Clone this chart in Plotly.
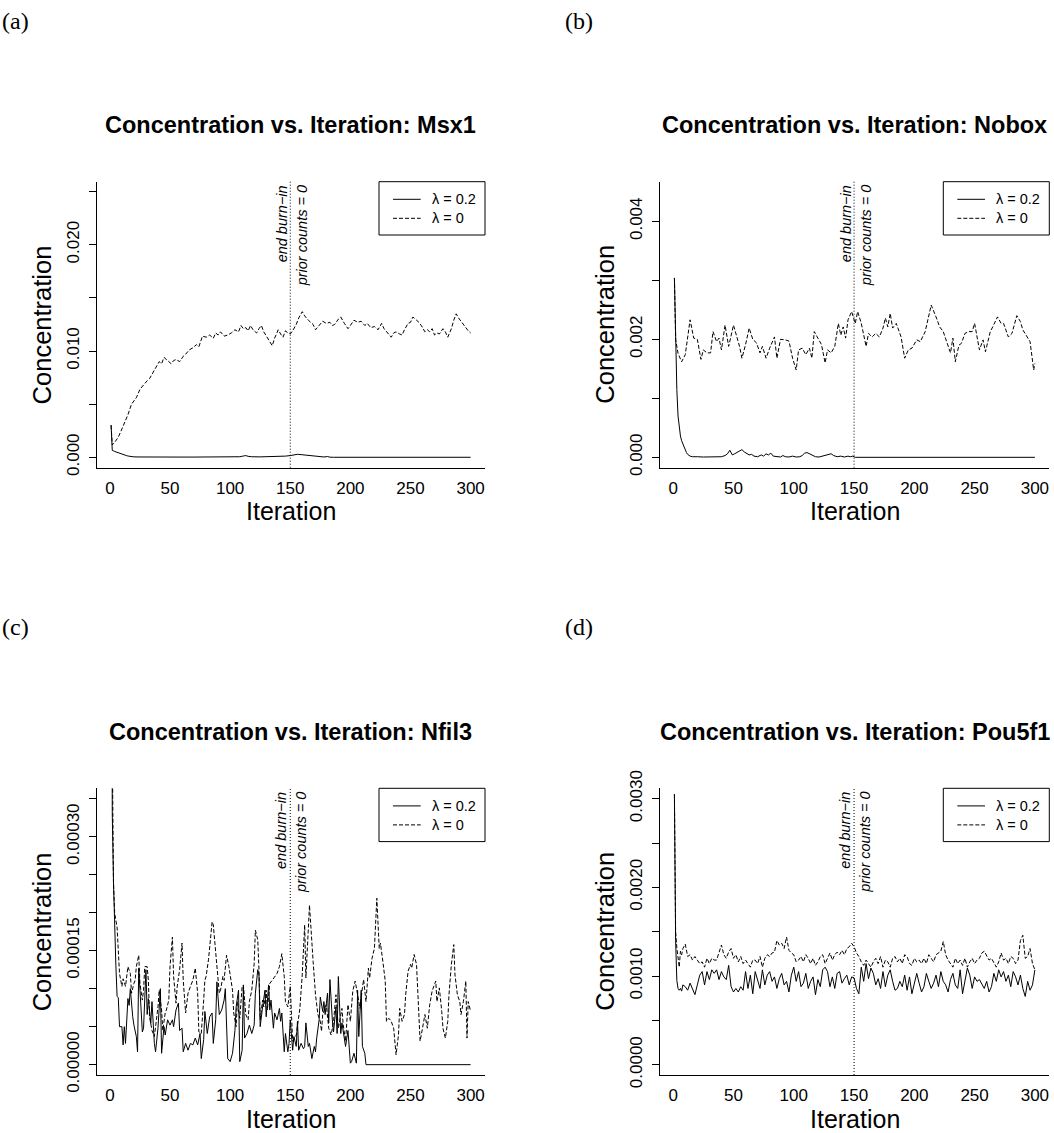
import plotly.graph_objects as go

W, H = 1054, 1133
FONT = "Liberation Sans, Arial, sans-serif"

# ---------------------------------------------------------------------------
# Concentration traces, as (iteration, value) pairs.
# Values are in the unit given by each panel's scale entry below.
# ---------------------------------------------------------------------------

# Msx1 (units of 1e-4)
MSX1_L02 = [(1, 30.4), (2, 6.5), (4, 5.5), (6, 4.6), (8, 3.8), (10, 3.0), (12, 2.2), (14, 1.5),
            (16, 1.0), (18, 0.6), (20, 0.4), (25, 0.3), (30, 0.2), (40, 0.3), (50, 0.4), (60, 0.2),
            (70, 0.2), (80, 0.3), (90, 0.4), (100, 0.3), (108, 0.5), (111, 1.2), (113, 1.6), (115, 0.9),
            (118, 0.5), (125, 0.4), (132, 0.5), (138, 0.9), (142, 1.0), (146, 1.1), (150, 1.6), (153, 2.3),
            (156, 2.8), (159, 2.5), (162, 2.1), (165, 1.5), (168, 1.0), (171, 0.6), (175, 0.4), (178, 0.3),
            (181, 0.7), (183, 0.1), (186, 0.0), (300, 0.0)]
MSX1_L0 = [(1, 30), (2, 11.6), (4, 14), (7, 19), (9, 24), (11, 29), (13, 34), (15, 40), (18, 50), (20, 53),
           (22, 56), (25, 64), (27, 67), (29, 69), (31, 72), (33, 74), (35, 78), (37, 82), (39, 86), (41, 90),
           (43, 88), (45, 94), (48, 91), (51, 88), (53, 91), (55, 92), (58, 90), (61, 95), (63, 97), (66, 101),
           (69, 103), (72, 106), (74, 104), (77, 114), (80, 113), (83, 115), (86, 112), (88, 117), (90, 115),
           (92, 118), (95, 114), (98, 115), (101, 117), (104, 120), (107, 118), (109, 124), (111, 121),
           (113, 122), (115, 119), (117, 124), (119, 120), (122, 117), (124, 121), (126, 124), (128, 118),
           (130, 114), (132, 110), (135, 105), (137, 112), (140, 120), (142, 116), (144, 113), (146, 119),
           (148, 117), (150, 116), (152, 119), (155, 125), (157, 131), (160, 137), (162, 133), (165, 129),
           (167, 127), (169, 125), (171, 120), (174, 124), (177, 128), (180, 126), (183, 127), (185, 124),
           (187, 125), (190, 130), (192, 132), (195, 126), (198, 121), (200, 124), (203, 129), (206, 127),
           (209, 128), (212, 124), (214, 126), (217, 122), (220, 123), (223, 120), (226, 126), (228, 121),
           (230, 118), (234, 113), (236, 117), (238, 118), (241, 116), (243, 115), (245, 120), (248, 126),
           (250, 127), (252, 132), (255, 129), (257, 127), (259, 124), (262, 118), (264, 120), (266, 118),
           (268, 121), (270, 115), (272, 117), (274, 116), (277, 121), (279, 118), (281, 113), (284, 121),
           (286, 129), (288, 135), (290, 131), (292, 128), (294, 125), (296, 121), (298, 119), (300, 117)]

# Nobox (units of 1e-5)
NOBOX_L02 = [(1, 304), (2, 204), (3, 115), (4, 70), (5, 48), (6, 36), (7, 28), (8, 22), (9, 17), (10, 12),
             (11, 8), (12, 5), (13, 3), (14, 2), (16, 1), (18, 0.5), (20, 1), (25, 0.5), (30, 1), (35, 0.5),
             (40, 1), (43, 3), (45, 6), (47, 12), (49, 4), (51, 6), (53, 8), (55, 11), (57, 13), (59, 9),
             (61, 6), (63, 4), (65, 5), (67, 2), (70, 1), (73, 4), (75, 2), (77, 6), (79, 4), (81, 7), (83, 2),
             (86, 1), (89, 0.5), (91, 3), (93, 1), (96, 0.5), (99, 2), (102, 0.5), (105, 1), (107, 3), (109, 7),
             (111, 8), (113, 6), (115, 3), (118, 1), (121, 0.5), (124, 2), (127, 4), (129, 5), (131, 6),
             (133, 3), (136, 1), (139, 2), (142, 0.5), (145, 2), (147, 1), (149, 2), (150, 1), (151, 0),
             (300, 0)]
NOBOX_L0 = [(1, 304), (2, 200), (4, 176), (7, 162), (10, 174), (12, 200), (14, 233), (17, 202), (20, 200),
            (23, 166), (25, 182), (28, 177), (31, 177), (33, 213), (36, 196), (38, 202), (40, 182), (43, 224),
            (46, 188), (50, 224), (53, 204), (55, 188), (57, 168), (60, 191), (63, 219), (66, 200), (69, 194),
            (72, 177), (74, 188), (77, 168), (80, 185), (84, 204), (86, 168), (89, 200), (93, 199), (96, 197),
            (99, 168), (102, 148), (104, 182), (107, 185), (110, 174), (113, 185), (115, 168), (117, 213),
            (120, 202), (123, 191), (126, 160), (128, 182), (131, 177), (134, 188), (137, 227), (139, 207),
            (141, 221), (143, 202), (145, 233), (148, 247), (151, 227), (153, 247), (156, 227), (160, 188),
            (162, 210), (165, 204), (168, 210), (171, 204), (174, 219), (176, 236), (178, 221), (180, 244),
            (182, 219), (185, 227), (189, 204), (192, 168), (195, 182), (198, 185), (202, 199), (205, 196),
            (209, 213), (211, 230), (214, 258), (218, 238), (221, 221), (224, 213), (227, 193), (230, 177),
            (232, 202), (234, 162), (237, 190), (239, 193), (242, 210), (245, 213), (248, 213), (250, 227),
            (254, 182), (257, 199), (259, 179), (263, 213), (265, 221), (269, 238), (272, 227), (274, 227),
            (278, 204), (281, 210), (285, 240), (288, 230), (290, 216), (293, 207), (296, 196), (299, 148),
            (300, 159)]

# Nfil3 (units of 1e-6)
NFIL3_L02 = [(1, 900), (2, 330), (3, 240), (4, 170), (5, 130), (6, 90), (7, 88), (8, 50), (10, 50), (11, 26),
             (12, 50), (13, 28), (15, 87), (16, 78), (17, 100), (19, 63), (20, 52), (22, 37), (23, 17), (24, 127),
             (26, 76), (27, 43), (28, 48), (30, 125), (31, 66), (32, 87), (34, 54), (35, 83), (37, 28), (38, 17),
             (40, 48), (42, 100), (43, 15), (45, 50), (46, 39), (48, 59), (50, 52), (52, 59), (53, 50), (55, 72),
             (57, 81), (58, 45), (60, 48), (61, 17), (63, 28), (65, 19), (67, 28), (69, 26), (71, 35), (73, 26),
             (75, 41), (76, 8), (78, 33), (79, 70), (81, 41), (83, 63), (85, 68), (86, 28), (88, 59), (89, 109),
             (91, 66), (93, 72), (95, 85), (96, 100), (98, 8), (100, 4), (102, 15), (104, 45), (105, 76),
             (107, 98), (108, 4), (110, 19), (111, 103), (112, 35), (114, 41), (116, 52), (118, 41), (120, 52),
             (121, 94), (123, 125), (124, 118), (125, 50), (127, 76), (129, 98), (130, 63), (132, 105), (133, 72),
             (134, 85), (136, 48), (137, 68), (139, 59), (141, 74), (142, 57), (143, 68), (145, 17), (146, 41),
             (148, 17), (149, 28), (150, 59), (152, 19), (153, 37), (155, 24), (156, 57), (157, 19), (159, 28),
             (161, 21), (162, 24), (163, 55), (165, 24), (166, 28), (168, 8), (170, 24), (171, 17), (172, 35),
             (174, 59), (175, 89), (177, 70), (178, 83), (179, 66), (181, 94), (182, 55), (183, 112), (185, 59),
             (186, 43), (188, 76), (189, 41), (190, 116), (192, 41), (193, 55), (195, 37), (196, 24), (198, 45),
             (200, 2), (201, 4), (203, 15), (205, 2), (206, 98), (207, 37), (209, 98), (210, 24), (212, 15),
             (213, 0), (300, 0)]
NFIL3_L0 = [(1, 900), (2, 420), (3, 239), (4, 199), (6, 181), (7, 146), (8, 120), (10, 103), (11, 113), (13, 103),
            (14, 116), (15, 129), (17, 120), (18, 94), (20, 107), (21, 111), (22, 129), (24, 144), (25, 107),
            (27, 85), (28, 98), (29, 129), (31, 129), (32, 111), (33, 63), (35, 45), (37, 37), (38, 50), (40, 76),
            (41, 98), (43, 72), (44, 45), (46, 68), (47, 72), (49, 85), (50, 129), (52, 168), (53, 116), (55, 81),
            (56, 103), (58, 125), (60, 160), (61, 111), (63, 68), (65, 94), (67, 103), (69, 111), (71, 127),
            (73, 94), (74, 43), (76, 41), (78, 85), (79, 111), (80, 116), (82, 138), (84, 171), (85, 188),
            (86, 184), (88, 151), (89, 129), (91, 94), (92, 98), (94, 116), (95, 111), (97, 144), (99, 129),
            (100, 116), (102, 98), (103, 68), (105, 50), (106, 83), (108, 61), (110, 103), (111, 105), (113, 66),
            (115, 59), (116, 83), (118, 98), (120, 133), (121, 177), (123, 164), (124, 125), (125, 59), (127, 85),
            (128, 76), (130, 98), (131, 72), (133, 107), (135, 111), (137, 116), (139, 120), (141, 129),
            (143, 146), (145, 116), (146, 83), (148, 76), (150, 103), (152, 31), (155, 39), (158, 74), (160, 119),
            (162, 184), (163, 114), (166, 210), (168, 149), (169, 136), (171, 92), (173, 66), (175, 57), (176, 44),
            (177, 66), (180, 79), (182, 48), (184, 39), (186, 57), (188, 92), (190, 48), (193, 74), (194, 53),
            (196, 31), (198, 79), (200, 57), (202, 97), (204, 110), (206, 92), (208, 74), (210, 101), (211, 112),
            (213, 83), (215, 127), (216, 114), (218, 140), (220, 153), (222, 219), (224, 153), (225, 160),
            (227, 136), (229, 110), (230, 57), (232, 61), (234, 57), (236, 48), (238, 13), (240, 39), (241, 74),
            (243, 57), (245, 66), (246, 92), (248, 123), (250, 132), (251, 127), (253, 145), (255, 132), (256, 92),
            (258, 31), (260, 48), (262, 66), (264, 48), (266, 79), (268, 97), (269, 101), (271, 110), (272, 83),
            (274, 101), (276, 70), (277, 48), (279, 35), (281, 57), (282, 92), (284, 132), (286, 158), (287, 118),
            (289, 92), (291, 83), (292, 66), (294, 83), (296, 110), (297, 35), (298, 83), (300, 70)]

# Pou5f1 (units of 1e-5), sampled on a fixed iteration grid
POU5F1_ITER = list(range(1, 9)) + list(range(10, 301, 2))
POU5F1_L02 = [305, 140, 95, 86, 84, 86, 83, 90,
              88, 84, 92, 86, 79, 90, 101, 105, 90, 105, 96, 107, 103, 107, 96, 105, 99, 96, 112, 88,
              82, 86, 82, 88, 84, 105, 86, 101, 80, 105, 96, 86, 107, 90, 101, 105, 94, 99, 86, 97,
              103, 90, 94, 82, 101, 110, 94, 105, 88, 92, 103, 86, 94, 99, 79, 96, 88, 107, 110, 105,
              88, 99, 86, 103, 105, 92, 97, 101, 90, 99, 98, 86, 80, 110, 94, 114, 97, 109, 103, 90,
              97, 86, 105, 88, 101, 107, 94, 84, 86, 94, 88, 101, 84, 99, 80, 90, 103, 92, 82, 88,
              103, 94, 86, 92, 101, 88, 105, 94, 90, 82, 96, 103, 90, 86, 107, 80, 97, 109, 101, 86,
              99, 94, 96, 90, 86, 94, 82, 88, 103, 94, 107, 99, 105, 94, 101, 88, 105, 99, 90, 101,
              86, 77, 94, 84, 90, 107]
POU5F1_L0 = [305, 150, 132, 120, 110, 128, 124, 131,
             136, 122, 124, 118, 122, 118, 114, 116, 110, 120, 114, 120, 118, 118, 127, 135, 124, 120, 127, 131,
             120, 124, 116, 122, 114, 118, 114, 110, 118, 118, 114, 122, 110, 120, 124, 122, 126, 127, 140, 135,
             137, 131, 144, 129, 126, 124, 116, 118, 122, 116, 124, 120, 114, 120, 112, 116, 122, 124, 114, 120,
             126, 118, 124, 127, 124, 129, 124, 131, 133, 137, 133, 126, 122, 116, 112, 118, 114, 110, 116, 120,
             114, 122, 110, 118, 116, 110, 120, 122, 116, 120, 114, 124, 122, 114, 112, 120, 116, 118, 114, 120,
             114, 124, 120, 116, 124, 126, 128, 139, 124, 118, 114, 110, 120, 114, 118, 112, 120, 110, 116, 120,
             114, 118, 120, 126, 128, 122, 118, 120, 114, 110, 116, 126, 118, 120, 114, 122, 120, 114, 118, 140,
             146, 120, 122, 131, 114, 107]

X_TICKS = [0, 50, 100, 150, 200, 250, 300]
BURN_IN_END = 150
LEGEND_LABELS = ["\u03bb = 0.2", "\u03bb = 0"]


def unzip(pairs):
    return [p[0] for p in pairs], [p[1] for p in pairs]


PANELS = [
    dict(tag="(a)", gene="Msx1", scale=1e-4,
         solid=unzip(MSX1_L02), dashed=unzip(MSX1_L0),
         box=(96.7, 181.7, 485.0, 467.7), yrange=(-0.00098, 0.02593),
         yticks=[0, 0.005, 0.010, 0.015, 0.020, 0.025],
         ytext=["0.000", "", "0.010", "", "0.020", ""]),
    dict(tag="(b)", gene="Nobox", scale=1e-5,
         solid=unzip(NOBOX_L02), dashed=unzip(NOBOX_L0),
         box=(660.0, 181.7, 1049.3, 467.7), yrange=(-0.000176, 0.004671),
         yticks=[0, 0.001, 0.002, 0.003, 0.004],
         ytext=["0.000", "", "0.002", "", "0.004"]),
    dict(tag="(c)", gene="Nfil3", scale=1e-6,
         solid=unzip(NFIL3_L02), dashed=unzip(NFIL3_L0),
         box=(96.7, 788.3, 485.0, 1075.0), yrange=(-0.0000136, 0.0003637),
         yticks=[0, 0.00005, 0.0001, 0.00015, 0.0002, 0.00025, 0.0003, 0.00035],
         ytext=["0.00000", "", "", "0.00015", "", "", "0.00030", ""]),
    dict(tag="(d)", gene="Pou5f1", scale=1e-5,
         solid=(POU5F1_ITER, POU5F1_L02), dashed=(POU5F1_ITER, POU5F1_L0),
         box=(660.0, 788.3, 1049.3, 1075.0), yrange=(-0.000116, 0.003117),
         yticks=[0, 0.0005, 0.001, 0.0015, 0.002, 0.0025, 0.003],
         ytext=["0.0000", "", "0.0010", "", "0.0020", "", "0.0030"]),
]


def fx(px):
    return px / W


def fy(py):
    return 1 - py / H


DASH = "4px,2px"
DOT = "1px,2px"

fig = go.Figure()
shapes, annotations = [], []

for i, p in enumerate(PANELS):
    n = "" if i == 0 else str(i + 1)
    xa, ya = "x" + n, "y" + n
    L, T, R, B = p["box"]

    for (its, vals), dash in ((p["solid"], "solid"), (p["dashed"], DASH)):
        fig.add_trace(go.Scatter(
            x=its, y=[v * p["scale"] for v in vals], mode="lines",
            line=dict(color="black", width=1, dash=dash),
            xaxis=xa, yaxis=ya, showlegend=False, hoverinfo="skip"))

    fig.layout["xaxis" + n] = dict(
        domain=[fx(L), fx(R)], anchor=ya, range=[-10.96, 311.96],
        showline=True, linecolor="black", linewidth=1, showgrid=False, zeroline=False,
        tickmode="array", tickvals=X_TICKS, ticks="", ticklabelstandoff=5, automargin=False,
        tickfont=dict(family=FONT, size=17, color="black"))
    fig.layout["yaxis" + n] = dict(
        domain=[fy(B), fy(T)], anchor=xa, range=list(p["yrange"]),
        showline=True, linecolor="black", linewidth=1, showgrid=False, zeroline=False,
        tickmode="array", tickvals=p["yticks"], ticktext=p["ytext"], automargin=False,
        ticks="outside", ticklen=7, tickwidth=1, tickcolor="black", tickangle=-90,
        ticklabelstandoff=3, tickfont=dict(family=FONT, size=17, color="black"))

    # end of burn-in marker
    shapes.append(dict(type="line", xref=xa, yref=ya + " domain", x0=BURN_IN_END, x1=BURN_IN_END,
                       y0=0, y1=1, line=dict(color="black", width=1, dash=DOT)))
    for txt, shift in (("end burn\u2212in", -8.6), ("prior counts = 0", 11.4)):
        annotations.append(dict(text="<i>" + txt + "</i>", xref=xa, yref=ya + " domain",
                                x=BURN_IN_END, y=1, xshift=shift, yshift=-1.5,
                                xanchor="center", yanchor="top", textangle=-90, showarrow=False,
                                font=dict(family=FONT, size=14.5, color="black")))

    # titles and axis labels
    cx = (L + R) / 2
    annotations.append(dict(text="Concentration vs. Iteration: " + p["gene"], xref="paper", yref="paper",
                            x=fx(cx), y=fy(T - 56.5), xanchor="center", yanchor="middle", showarrow=False,
                            font=dict(family=FONT, size=23.5, color="black", weight="bold")))
    annotations.append(dict(text="Iteration", xref="paper", yref="paper", x=fx(cx), y=fy(B + 43.5),
                            xanchor="center", yanchor="middle", showarrow=False, borderpad=0,
                            font=dict(family=FONT, size=25, color="black")))
    annotations.append(dict(text="Concentration", xref="paper", yref="paper", x=fx(L - 55),
                            y=fy((T + B) / 2), xanchor="center", yanchor="middle", textangle=-90,
                            showarrow=False, font=dict(family=FONT, size=25.5, color="black")))
    annotations.append(dict(text=p["tag"], xref="paper", yref="paper", x=fx(L - 96.7), y=fy(T - 161),
                            xanchor="left", yanchor="middle", showarrow=False,
                            font=dict(family="Liberation Serif, serif", size=24, color="black")))

    # legend box
    shapes.append(dict(type="rect", xref="paper", yref="paper", x0=fx(R - 106), x1=fx(R),
                       y0=fy(T + 53.3), y1=fy(T), line=dict(color="black", width=1),
                       fillcolor="white", layer="above"))
    for k, (label, dash) in enumerate(zip(LEGEND_LABELS, ("solid", DASH))):
        ly = T + 17.6 + 19 * k
        shapes.append(dict(type="line", xref="paper", yref="paper", x0=fx(R - 92), x1=fx(R - 64.3),
                           y0=fy(ly), y1=fy(ly), line=dict(color="black", width=1, dash=dash)))
        annotations.append(dict(text=label, xref="paper", yref="paper", x=fx(R - 55), y=fy(ly),
                                xanchor="left", yanchor="middle", showarrow=False,
                                font=dict(family=FONT, size=14.5, color="black")))

fig.update_layout(width=W, height=H, margin=dict(l=0, r=0, t=0, b=0, pad=0, autoexpand=False),
                  paper_bgcolor="white", plot_bgcolor="white",
                  shapes=shapes, annotations=annotations, showlegend=False)

fig.write_html("out.html")
